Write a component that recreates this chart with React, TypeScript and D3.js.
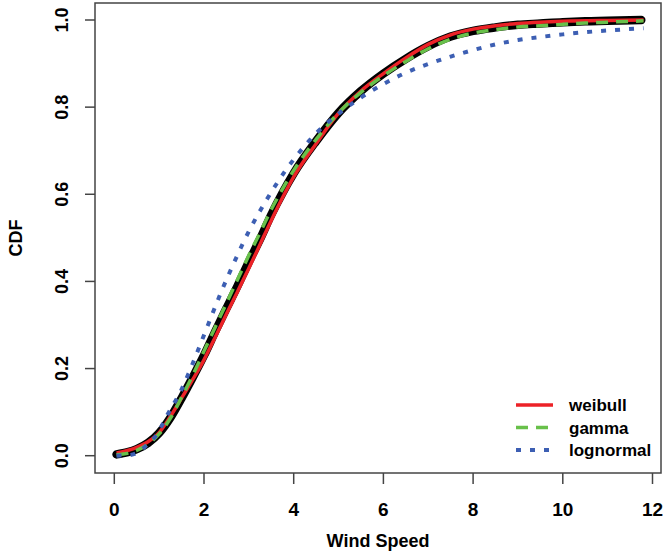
import React from "react";
import * as d3 from "d3";

const empX = [0.05, 0.3, 0.5, 0.75, 1.0, 1.25, 1.5, 1.75, 2.0, 2.25, 2.5, 2.75, 3.0, 3.25, 3.5, 3.75, 4.0, 4.5, 5.0, 5.5, 6.0, 6.5, 7.0, 7.5, 8.0, 8.5, 9.0, 9.5, 10.0, 10.5, 11.0, 11.75];
const empY = [0.003, 0.008, 0.015, 0.029, 0.052, 0.087, 0.132, 0.18, 0.23, 0.285, 0.338, 0.39, 0.445, 0.497, 0.553, 0.603, 0.648, 0.722, 0.787, 0.837, 0.877, 0.911, 0.94, 0.962, 0.975, 0.983, 0.989, 0.992, 0.995, 0.997, 0.998, 1.0];

// Weibull fit
const weibullX = [0.05, 0.5, 0.75, 1.0, 1.25, 1.5, 1.75, 2.0, 2.25, 2.5, 2.75, 3.0, 3.25, 3.5, 3.75, 4.0, 4.5, 5.0, 5.5, 6.0, 6.5, 7.0, 7.5, 8.0, 8.5, 9.0, 9.5, 10.0, 11.0, 11.8];
const weibullY = [0.006, 0.019, 0.032, 0.053, 0.09, 0.132, 0.175, 0.22, 0.272, 0.325, 0.377, 0.43, 0.485, 0.54, 0.592, 0.64, 0.716, 0.786, 0.837, 0.877, 0.913, 0.944, 0.966, 0.979, 0.987, 0.992, 0.995, 0.997, 0.999, 1.0];

// Gamma fit
const gammaX = [0.05, 0.5, 0.75, 1.0, 1.25, 1.5, 1.75, 2.0, 2.25, 2.5, 2.75, 3.0, 3.25, 3.5, 3.75, 4.0, 4.5, 5.0, 5.5, 6.0, 6.5, 7.0, 7.5, 8.0, 8.5, 9.0, 9.5, 10.0, 10.5, 11.0, 11.8];
const gammaY = [0.002, 0.012, 0.026, 0.05, 0.086, 0.134, 0.185, 0.24, 0.295, 0.35, 0.405, 0.46, 0.512, 0.565, 0.612, 0.655, 0.726, 0.787, 0.834, 0.872, 0.905, 0.934, 0.956, 0.97, 0.978, 0.984, 0.987, 0.99, 0.993, 0.995, 0.998];

// Lognormal fit
const lognormX = [0.05, 0.3, 0.5, 0.7, 0.95, 1.2, 1.5, 1.8, 2.1, 2.4, 2.7, 3.0, 3.4, 3.8, 4.14, 4.5, 5.0, 5.5, 6.0, 6.5, 7.0, 7.5, 8.0, 8.5, 9.0, 9.5, 10.0, 10.5, 11.0, 11.8];
const lognormY = [0.0, 0.001, 0.006, 0.022, 0.049, 0.097, 0.152, 0.225, 0.303, 0.38, 0.45, 0.515, 0.588, 0.652, 0.698, 0.74, 0.785, 0.822, 0.853, 0.879, 0.899, 0.916, 0.931, 0.944, 0.954, 0.961, 0.967, 0.972, 0.976, 0.981];

const xTicks = [0, 2, 4, 6, 8, 10, 12];
const yTicks = [0, 0.2, 0.4, 0.6, 0.8, 1.0];
const legendLabels = ["weibull", "gamma", "lognormal"];

const W = 663;
const H = 552;
const FONT = "'Liberation Sans', Arial, Helvetica, sans-serif";

export default function App() {
  const x = d3.scaleLinear().domain([0, 12]).range([114.3, 652.5]);
  const y = d3.scaleLinear().domain([0, 1]).range([455.7, 20]);
  const box = { left: 95, right: 661, top: 3, bottom: 473 };

  const mk = (xs: number[], ys: number[]) =>
    d3.line<number>().x((_, i) => x(xs[i])).y((_, i) => y(ys[i])).curve(d3.curveMonotoneX)(xs.map((v) => v)) || "";

  const series = [
    { xs: weibullX, ys: weibullY, color: "#ec2227", width: 3.5, dash: "" },
    { xs: gammaX, ys: gammaY, color: "#68c04a", width: 3.5, dash: "12 8" },
    { xs: lognormX, ys: lognormY, color: "#3d5fb3", width: 4, dash: "5 9" },
  ];

  return (
    <svg
      width={W}
      height={H}
      style={{ position: "absolute", left: 0, top: 0, background: "#fff" }}
      fontFamily={FONT}
    >
      <rect x={0} y={0} width={W} height={H} fill="#fff" />
      {/* empirical */}
      <path d={mk(empX, empY)} fill="none" stroke="#000" strokeWidth={8.5} strokeLinecap="round" strokeLinejoin="round" />
      {series.map((s, i) => (
        <path
          key={i}
          d={mk(s.xs, s.ys)}
          fill="none"
          stroke={s.color}
          strokeWidth={s.width}
          strokeDasharray={s.dash || undefined}
        />
      ))}
      {/* box */}
      <rect
        x={box.left}
        y={box.top}
        width={box.right - box.left}
        height={box.bottom - box.top}
        fill="none"
        stroke="#444"
        strokeWidth={1.5}
      />
      {/* x axis */}
      {xTicks.map((t) => (
        <g key={t}>
          <line x1={x(t)} x2={x(t)} y1={box.bottom} y2={box.bottom + 11} stroke="#444" strokeWidth={1.5} />
          <text x={x(t)} y={516} textAnchor="middle" fontSize={19} fontWeight="bold" fill="#000">
            {t}
          </text>
        </g>
      ))}
      {/* y axis */}
      {yTicks.map((t) => (
        <g key={t}>
          <line x1={box.left - 10} x2={box.left} y1={y(t)} y2={y(t)} stroke="#444" strokeWidth={1.5} />
          <text
            transform={`translate(68,${y(t)}) rotate(-90)`}
            textAnchor="middle"
            fontSize={18}
            fontWeight="bold"
            fill="#000"
          >
            {t.toFixed(1)}
          </text>
        </g>
      ))}
      <text x={(box.left + box.right) / 2} y={547} textAnchor="middle" fontSize={18} fontWeight="bold">
        Wind Speed
      </text>
      <text transform={`translate(22,${(box.top + box.bottom) / 2}) rotate(-90)`} textAnchor="middle" fontSize={18} fontWeight="bold">
        CDF
      </text>
      {/* legend */}
      {legendLabels.map((lab, i) => {
        const ly = 405 + i * 22.5;
        const s = series[i];
        return (
          <g key={lab}>
            <line x1={516} x2={553} y1={ly} y2={ly} stroke={s.color} strokeWidth={s.width} strokeDasharray={s.dash || undefined} />
            <text x={569} y={ly + 6} fontSize={17} fontWeight="bold" fill="#000">
              {lab}
            </text>
          </g>
        );
      })}
    </svg>
  );
}
